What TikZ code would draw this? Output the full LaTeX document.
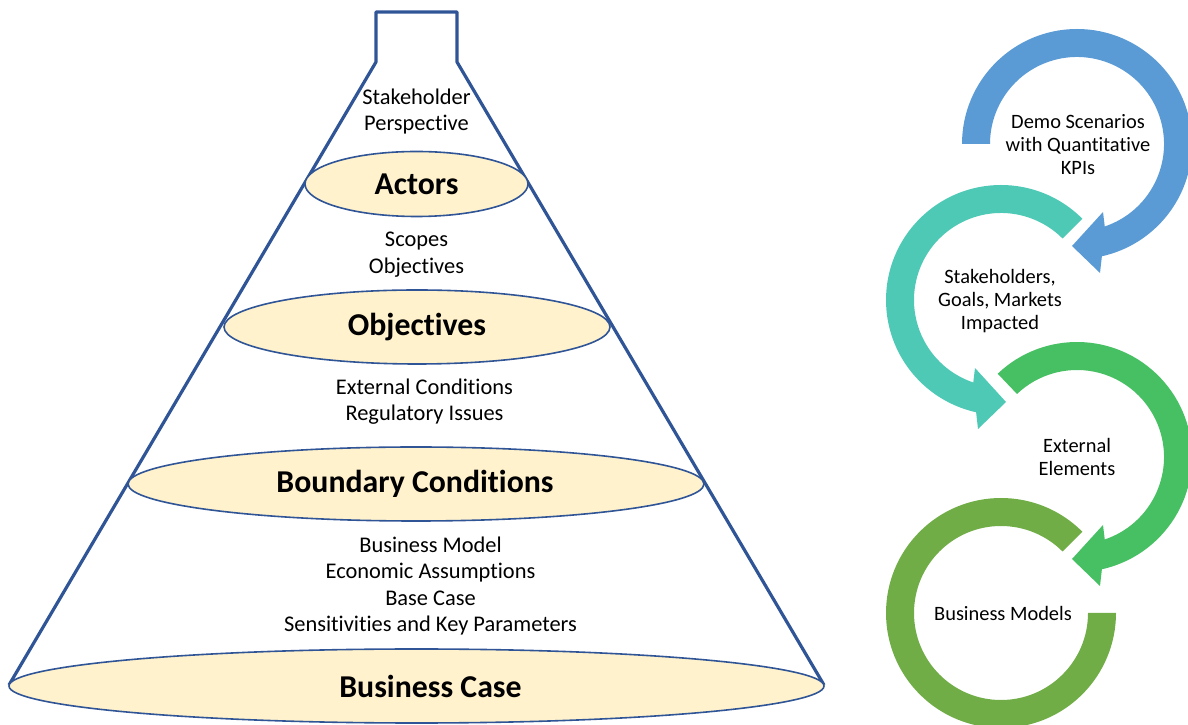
\documentclass[tikz,border=0pt]{standalone}
\usepackage{fontspec}
\setmainfont{Carlito}[Ligatures={NoCommon}]
\usetikzlibrary{shapes.geometric}

\definecolor{funnelblue}{HTML}{2F5597}
\definecolor{creamfill}{HTML}{FFF2CC}
\definecolor{arrowblue}{HTML}{5B9BD5}
\definecolor{arrowteal}{HTML}{4EC9B5}
\definecolor{arrowgreen}{HTML}{47BF63}
\definecolor{arrowolive}{HTML}{70AD47}

\tikzset{
  layer/.style={ellipse, draw=funnelblue, line width=1.6pt, fill=creamfill, inner sep=0pt},
  title/.style={inner sep=0pt, font=\fontsize{31.8}{36}\selectfont\bfseries},
  note/.style={align=center, inner sep=0pt, font=\fontsize{22.4}{26.6}\selectfont},
  ringnote/.style={align=center, inner sep=0pt, font=\fontsize{20.4}{23}\selectfont},
  funnelline/.style={draw=funnelblue, line width=3.2pt, line join=round}
}

\begin{document}
\begin{tikzpicture}[x=1pt, y=1pt]
\useasboundingbox (0,0) rectangle (1188,725);

% funnel outline with its neck
\draw[funnelline] (9,40) -- (376,663) -- (376,713) -- (457,713) -- (457,663) -- (824,40);

% layers of the funnel
\node[layer, minimum width=223pt, minimum height=65pt] (actors) at (416.5,541) {};
\node[layer, minimum width=386pt, minimum height=74pt] (objectives) at (417,398) {};
\node[layer, minimum width=576pt, minimum height=74pt] (boundary) at (416,241) {};
\node[layer, minimum width=815pt, minimum height=74pt] (bcase) at (416.5,39) {};

\node[title] (actorstext) at (416.5,541) {Actors};
\node[title] (objectivestext) at (417,398) {Objectives};
\node[title] (boundarytext) at (415,241) {Boundary Conditions};
\node[title] (bcasetext) at (430.5,39) {Business Case};

% notes between the layers
\node[note] (persp) at (416.5,613.5) {Stakeholder\\Perspective};
\node[note] (scopes) at (416.5,470.5) {Scopes\\Objectives};
\node[note] (external) at (424.5,323.5) {External Conditions\\Regulatory Issues};
\node[note] (model) at (430.5,139) {Business Model\\Economic Assumptions\\Base Case\\Sensitivities and Key Parameters};

% circular arrows: clockwise ones
\begin{scope}[shift={(1077,581)}]
  \fill[arrowblue] (180:115) arc[start angle=180, end angle=-77.5, radius=115]
    -- (23,-129) -- (-5,-102) -- (26,-68) -- (-71.4:87)
    arc[start angle=-71.4, end angle=180, radius=87] -- cycle;
\end{scope}
\begin{scope}[shift={(1077,268)}]
  \fill[arrowgreen] (133.6:115) arc[start angle=133.6, end angle=-77.5, radius=115]
    -- (23,-129) -- (-5,-102) -- (26,-68) -- (-71.4:87)
    arc[start angle=-71.4, end angle=133.6, radius=87] -- cycle;
\end{scope}
% counter-clockwise ones
\begin{scope}[shift={(1001,425)}]
  \fill[arrowteal] (45:115) arc[start angle=45, end angle=257.5, radius=115]
    -- (-23,-129) -- (5,-102) -- (-26,-68) -- (251.4:87)
    arc[start angle=251.4, end angle=45, radius=87] -- cycle;
\end{scope}
\begin{scope}[shift={(1001,112)}]
  \fill[arrowolive] (45:115) arc[start angle=45, end angle=360, radius=115]
    -- (0:87) arc[start angle=360, end angle=45, radius=87] -- cycle;
\end{scope}

% labels inside the rings
\node[ringnote] (demo) at (1078,580) {Demo Scenarios\\with Quantitative\\KPIs};
\node[ringnote] (stake) at (1000,424) {Stakeholders,\\Goals, Markets\\Impacted};
\node[ringnote] (elements) at (1077,268) {External\\Elements};
\node[ringnote] (bmodels) at (1003,112) {Business Models};
\end{tikzpicture}
\end{document}
